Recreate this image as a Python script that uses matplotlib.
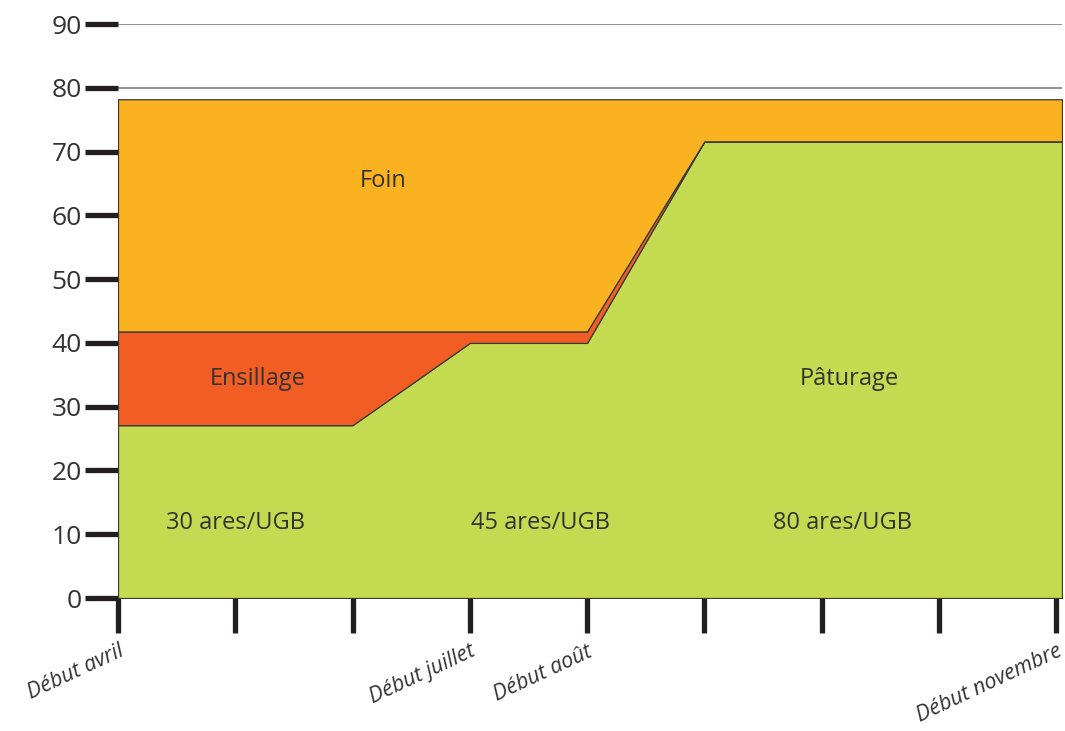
import matplotlib
matplotlib.use("Agg")
import matplotlib.pyplot as plt

# Data
x_pos = [0, 1, 2, 3, 4, 5, 6, 7, 8.05]
tick_pos = [0, 1, 2, 3, 4, 5, 6, 7, 8]
paturage = [27.1, 27.1, 27.1, 40.0, 40.0, 71.6, 71.6, 71.6, 71.6]
ensilage = [14.7, 14.7, 14.7, 1.8, 1.8, 0.0, 0.0, 0.0, 0.0]
foin = [36.4, 36.4, 36.4, 36.4, 36.4, 6.6, 6.6, 6.6, 6.6]
xtick_labels = ["Début avril", "", "", "Début juillet", "Début août", "", "", "", "Début novembre"]
yticks = [0, 10, 20, 30, 40, 50, 60, 70, 80, 90]

colors = ["#C3DA51", "#F15D22", "#FBB220"]

plt.rcParams['font.family'] = ['Open Sans', 'DejaVu Sans']

fig = plt.figure(figsize=(10.65, 7.31), dpi=100)
ax = fig.add_axes([118/1065, 1 - 598/731, (1062 - 118)/1065, (598 - 24)/731])

ax.stackplot(x_pos, paturage, ensilage, foin, colors=colors,
             edgecolor="#3a3a3a", linewidth=0.9, zorder=2)

ax.set_xlim(0, 8.05)
ax.set_ylim(0, 90)

ax.set_yticks(yticks)
ax.set_yticklabels([str(v) for v in yticks], fontsize=19, color="#333333")
ax.set_xticks(tick_pos)
ax.set_xticklabels(xtick_labels, rotation=25, ha="right", va="top",
                   rotation_mode="anchor", fontsize=15.5, style="italic", color="#333333")

ax.tick_params(axis="y", length=24, width=3.8, color="#231f20", pad=2)
ax.tick_params(axis="x", length=25, width=3.8, color="#231f20", pad=6)

ax.yaxis.grid(True, color="#808080", linewidth=1.2, zorder=0)
ax.set_axisbelow(True)
for s in ax.spines.values():
    s.set_visible(False)

lab = dict(fontsize=17, color="#333333", ha="center", va="center")
ax.text(2.26, 65.4, "Foin", **lab)
ax.text(1.19, 34.4, "Ensillage", **lab)
ax.text(6.24, 34.4, "Pâturage", **lab)
ax.text(1.0, 11.8, "30 ares/UGB", **lab)
ax.text(3.6, 11.8, "45 ares/UGB", **lab)
ax.text(6.18, 11.8, "80 ares/UGB", **lab)

fig.savefig("out.png", dpi=100)
